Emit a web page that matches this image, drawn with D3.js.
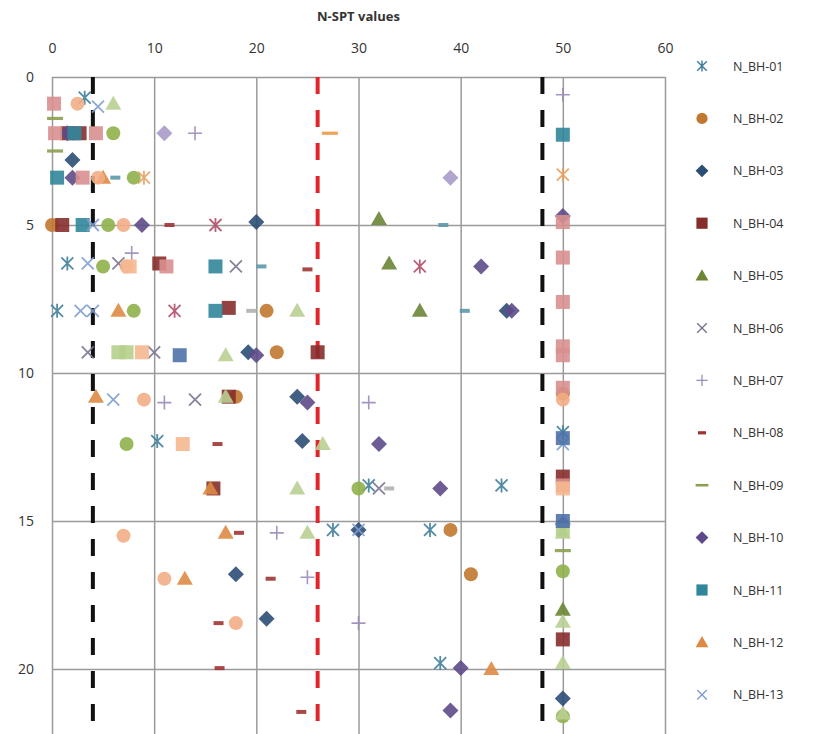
<!DOCTYPE html>
<meta charset="utf-8">
<style>
  body { margin: 0; background: #fff; }
  svg text { font-family: "Open Sans", "DejaVu Sans", sans-serif; fill: #333; }
</style>
<script src="https://d3js.org/d3.v7.min.js"></script>
<div id="chart"></div>
<script>
// tick labels
var xTicks = [0, 10, 20, 30, 40, 50, 60];
var yTicks = [0, 5, 10, 15, 20];
// reference lines (N-SPT)
var refLines = [4, 26, 48];
var refColors = ["#111", "#e0262a", "#111"];

// series shown in the legend: [N, depth]
var legendNames = ["N_BH-01","N_BH-02","N_BH-03","N_BH-04","N_BH-05","N_BH-06","N_BH-07",
                   "N_BH-08","N_BH-09","N_BH-10","N_BH-11","N_BH-12","N_BH-13"];
var bh01 = [[3.2,0.7],[1.5,6.3],[0.5,7.9],[10.3,12.3],[31,13.8],[44,13.8],[27.5,15.3],[37,15.3],[38,19.8],[50,12.0]];
var bh02 = [[0,5.0],[21,7.9],[22,9.3],[18,10.8],[39,15.3],[41,16.8],[50,10.7]];
var bh03 = [[2,2.8],[20,4.9],[44.5,7.9],[19.2,9.3],[24,10.8],[24.5,12.3],[30,15.3],[18,16.8],[21,18.3],[50,21.0]];
var bh04 = [[1.5,1.9],[2.7,1.9],[1,5.0],[10.5,6.3],[17.3,7.8],[26,9.3],[17.3,10.8],[15.8,13.9],[50,13.5],[50,19.0]];
var bh05 = [[32,4.8],[33,6.3],[36,7.9],[50,18.0]];
var bh06 = [[6.5,6.3],[18,6.4],[3.5,9.3],[10,9.3],[14,10.9],[32,13.9]];
var bh07 = [[14,1.9],[7.8,5.95],[11,11.0],[31,11.0],[22,15.4],[25,16.9],[30,18.45],[50,0.6]];
var bh08 = [[11.5,5.0],[25,6.5],[16.2,12.4],[18.3,15.4],[21.4,16.95],[16.3,18.45],[16.4,19.97],[24.4,21.45]];
var bh09 = [[0.3,1.4],[0.3,2.5],[50,16.0]];
var bh10 = [[1.5,1.9],[2,3.4],[8.8,5.0],[42,6.4],[45,7.9],[20,9.4],[25,11.0],[32,12.4],[38,13.9],[40,19.97],[39,21.4],[50,4.7],[50,15.1]];
var bh11 = [[2.2,1.9],[0.5,3.4],[3,5.0],[16,6.4],[16,7.9],[50,1.95]];
var bh12 = [[5,3.4],[6.5,7.9],[4.3,10.8],[15.5,13.9],[17,15.4],[13,16.95],[43,20.0]];
var bh13 = [[4.5,1.0],[4,5.0],[3.5,6.3],[2.8,7.9],[4,7.9],[6,10.9],[30,15.3],[50,12.4]];

// further series plotted but cut off the legend
var ex14 = [[0.2,0.9],[0.3,1.9],[4.3,1.9],[3,3.4],[11.2,6.4],[50,4.9],[50,6.1],[50,7.6],[50,9.1],[50,9.4],[50,10.5],[50,13.8]];
var ex15 = [[2.5,0.9],[4.5,3.4],[7,5.0],[7.3,6.4],[9,10.9],[7,15.5],[11,16.95],[18,18.45],[50,10.9]];
var ex16 = [[6,1.9],[8,3.4],[5.5,5.0],[5,6.4],[8,7.9],[7.3,12.4],[30,13.9],[50,16.7],[50,21.6]];
var ex17 = [[6,0.9],[24,7.9],[17,9.4],[17,10.8],[26.5,12.4],[24,13.9],[25,15.4],[50,15.4],[50,18.4],[50,19.8],[50,21.5]];
var ex18 = [[11,1.9],[39,3.4]];
var ex19 = [[9,3.4],[50,3.3]];
var ex20 = [[27.2,1.9]];
var ex21 = [[6.2,3.4],[38.3,5.0],[20.5,6.4],[40.4,7.9]];
var ex22 = [[16,5.0],[36,6.4],[12,7.9]];
var ex23 = [[6.5,9.3],[7.3,9.3],[50,15.3]];
var ex24 = [[7.6,6.4],[8.8,9.3],[12.8,12.4],[50,13.9]];
var ex25 = [[12.5,9.4],[50,12.2],[50,15.0]];
var ex26 = [[19.5,7.9],[33,13.9]];

var series = [
  {data: bh01, shape: "star",     color: "#3f7f9c"},
  {data: bh02, shape: "circle",   color: "#c0782f"},
  {data: bh03, shape: "diamond",  color: "#2c4d75"},
  {data: bh04, shape: "square",   color: "#862d2b"},
  {data: bh05, shape: "triangle", color: "#6b8535"},
  {data: bh06, shape: "x",        color: "#7d7490"},
  {data: bh07, shape: "plus",     color: "#9a8cb8"},
  {data: bh08, shape: "dash",     color: "#9e3434"},
  {data: bh09, shape: "longdash", color: "#8aa050"},
  {data: bh10, shape: "diamond",  color: "#5e4a8a"},
  {data: bh11, shape: "square",   color: "#31869b"},
  {data: bh12, shape: "triangle", color: "#de8a44"},
  {data: bh13, shape: "x",        color: "#7f9fd0"},
  {data: ex14, shape: "square",   color: "#d8908f"},
  {data: ex15, shape: "circle",   color: "#f3ad86"},
  {data: ex16, shape: "circle",   color: "#8fb04a"},
  {data: ex17, shape: "triangle", color: "#b9cf92"},
  {data: ex18, shape: "diamond",  color: "#a99ac8"},
  {data: ex19, shape: "star",     color: "#e8a060"},
  {data: ex20, shape: "longdash", color: "#eb9a45"},
  {data: ex21, shape: "dash",     color: "#5c98aa"},
  {data: ex22, shape: "star",     color: "#b0506a"},
  {data: ex23, shape: "square",   color: "#b5cf8a"},
  {data: ex24, shape: "square",   color: "#f5b890"},
  {data: ex25, shape: "square",   color: "#4f72a8"},
  {data: ex26, shape: "dash",     color: "#b0b0b0"}
];

var W = 817, H = 734;
var margin = {top: 77, left: 52},
    plotW = 613,
    plotH = 740;

var svg = d3.select("#chart").append("svg")
    .attr("width", W).attr("height", H);

var g = svg.append("g")
    .attr("transform", "translate(" + margin.left + "," + margin.top + ")");

var x = d3.scaleLinear().domain([0, 60]).range([0, plotW]);
var y = d3.scaleLinear().domain([0, 25]).range([0, plotH]);

// gridlines
g.append("g")
  .call(d3.axisTop(x).tickValues(xTicks).tickSize(-plotH).tickFormat(""))
  .call(function(a) { a.select(".domain").remove(); })
  .selectAll("line").attr("stroke", "#9a9a9a").attr("stroke-width", 1.5);
g.append("g")
  .call(d3.axisLeft(y).tickValues(yTicks).tickSize(-plotW).tickFormat(""))
  .call(function(a) { a.select(".domain").remove(); })
  .selectAll("line").attr("stroke", "#9a9a9a").attr("stroke-width", 1.5);

// tick labels
var xa = g.append("g")
  .call(d3.axisTop(x).tickValues(xTicks).tickSize(0).tickPadding(24));
xa.select(".domain").remove();
xa.selectAll("text").style("font-size", "14px").style("fill", "#333");

var ya = g.append("g")
  .call(d3.axisLeft(y).tickValues(yTicks).tickSize(0).tickPadding(18));
ya.select(".domain").remove();
ya.selectAll("text").style("font-size", "14px").style("fill", "#333");

// title
svg.append("text")
  .attr("x", margin.left + x(30)).attr("y", 21)
  .attr("text-anchor", "middle")
  .style("font-size", "13px").style("font-weight", "bold")
  .text("N-SPT values");

// dashed reference lines
g.selectAll(".ref")
  .data(refLines)
  .enter().append("line")
    .attr("x1", function(d) { return x(d); })
    .attr("x2", function(d) { return x(d); })
    .attr("y1", 0).attr("y2", plotH)
    .attr("stroke", function(d, i) { return refColors[i]; })
    .attr("stroke-width", 4)
    .attr("stroke-dasharray", "17,16");

// marker drawing
function drawMarker(sel, shape, color) {
  var s = 7;
  if (shape === "square") {
    sel.append("rect").attr("x", -s).attr("y", -s).attr("width", 2*s).attr("height", 2*s).attr("fill", color);
  } else if (shape === "circle") {
    sel.append("circle").attr("r", s).attr("fill", color);
  } else if (shape === "diamond") {
    sel.append("path").attr("d", "M0,-8L8,0L0,8L-8,0Z").attr("fill", color);
  } else if (shape === "triangle") {
    sel.append("path").attr("d", "M0,-8L8,6L-8,6Z").attr("fill", color);
  } else if (shape === "x") {
    sel.append("path").attr("d", "M-6,-6L6,6M-6,6L6,-6").attr("stroke", color).attr("stroke-width", 1.8).attr("fill", "none");
  } else if (shape === "star") {
    sel.append("path").attr("d", "M-6,-6L6,6M-6,6L6,-6M0,-7L0,7").attr("stroke", color).attr("stroke-width", 1.8).attr("fill", "none");
  } else if (shape === "plus") {
    sel.append("path").attr("d", "M-7,0L7,0M0,-7L0,7").attr("stroke", color).attr("stroke-width", 1.6).attr("fill", "none");
  } else if (shape === "dash") {
    sel.append("rect").attr("x", -5).attr("y", -2).attr("width", 10).attr("height", 4).attr("fill", color);
  } else if (shape === "longdash") {
    sel.append("rect").attr("x", -8).attr("y", -1.6).attr("width", 16).attr("height", 3.2).attr("fill", color);
  }
}

series.forEach(function(sr) {
  g.selectAll(null)
    .data(sr.data)
    .enter().append("g")
      .attr("transform", function(d) { return "translate(" + x(d[0]) + "," + y(d[1]) + ")"; })
      .each(function() { drawMarker(d3.select(this), sr.shape, sr.color); })
      .style("opacity", 0.9);
});

// legend
var legend = svg.append("g");
legendNames.forEach(function(name, i) {
  var ly = 66 + i * 52.4;
  var m = legend.append("g").attr("transform", "translate(702," + ly + ") scale(0.8)");
  drawMarker(m, series[i].shape, series[i].color);
  legend.append("text")
    .attr("x", 733).attr("y", ly)
    .attr("dominant-baseline", "central")
    .style("font-size", "12.5px")
    .text(name);
});
</script>
